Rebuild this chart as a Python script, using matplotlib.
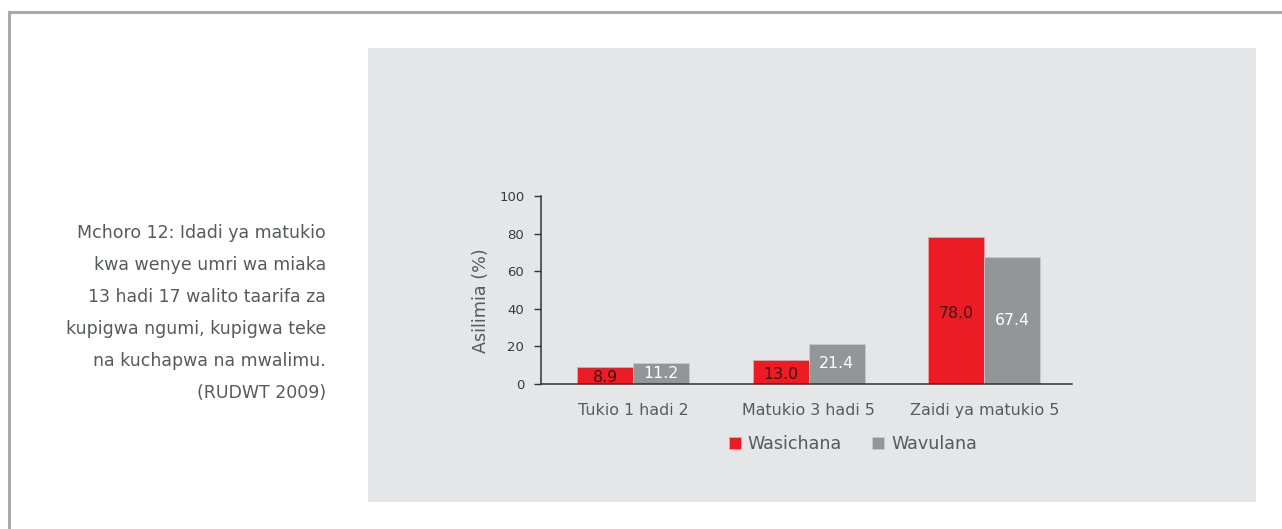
import numpy as np
import matplotlib.pyplot as plt
from matplotlib.patches import Rectangle
from matplotlib.lines import Line2D

plt.rcParams['font.family'] = ['DejaVu Sans']

categories = ['Tukio 1 hadi 2', 'Matukio 3 hadi 5', 'Zaidi ya matukio 5']
wasichana = [8.9, 13.0, 78.0]
wavulana = [11.2, 21.4, 67.4]
series_names = ['Wasichana', 'Wavulana']
yticks = [0, 20, 40, 60, 80, 100]
caption = ('Mchoro 12: Idadi ya matukio\nkwa wenye umri wa miaka\n13 hadi 17 walito taarifa za\n'
           'kupigwa ngumi, kupigwa teke\nna kuchapwa na mwalimu.\n(RUDWT 2009)')

red = '#ed1c24'
grey = '#939598'
text_col = '#58595b'

fig = plt.figure(figsize=(12.82, 5.29), dpi=100)
W, H = 1282, 529

# outer frame (top + left)
fig.add_artist(Line2D([9 / W, 9 / W], [0, 1 - 12 / H], transform=fig.transFigure, color='#a7a9ac', lw=2.2))
fig.add_artist(Line2D([9 / W, 1], [1 - 12 / H, 1 - 12 / H], transform=fig.transFigure, color='#a7a9ac', lw=2.2))

# grey panel
fig.add_artist(Rectangle((368 / W, 1 - 502 / H), (1256 - 368) / W, (502 - 48) / H,
                         transform=fig.transFigure, facecolor='#e5e6e7', edgecolor='none', zorder=0))

ax = fig.add_axes([541 / W, 1 - 384 / H, (1072 - 541) / W, (384 - 196) / H])
ax.patch.set_visible(False)

x = np.arange(len(categories))
bw = 0.32
b1 = ax.bar(x - bw / 2, wasichana, bw, color=red, edgecolor='#f4a0a0', linewidth=0.6, label=series_names[0])
b2 = ax.bar(x + bw / 2, wavulana, bw, color=grey, edgecolor='#c8c9cb', linewidth=0.6, label=series_names[1])

for rect, v in zip(b1, wasichana):
    ax.text(rect.get_x() + rect.get_width() / 2, max(v / 2 - 1.5, 3.6), f'{v:.1f}',
            ha='center', va='center', color='#3b1416', fontsize=11.3)
for rect, v in zip(b2, wavulana):
    ax.text(rect.get_x() + rect.get_width() / 2, max(v / 2, 4.8), f'{v:.1f}',
            ha='center', va='center', color='white', fontsize=11.3)

ax.set_xlim(-0.525, 2.5)
ax.set_ylim(0, 100)
ax.set_yticks(yticks)
ax.set_xticks(x)
ax.set_xticklabels(categories, fontsize=11.4, color=text_col)
ax.tick_params(axis='x', length=0, pad=14)
ax.tick_params(axis='y', length=5, width=1, color='#333333', labelsize=9.5, labelcolor='#3a3a3c', pad=7)
for s in ['top', 'right']:
    ax.spines[s].set_visible(False)
for s in ['left', 'bottom']:
    ax.spines[s].set_color('#333333')
    ax.spines[s].set_linewidth(1.1)
ax.set_ylabel('Asilimia (%)', fontsize=12.7, color=text_col)
ax.yaxis.set_label_coords(-0.096, 0.445)

ax.legend(loc='upper center', bbox_to_anchor=(0.587, -0.19), ncol=2, frameon=False,
          handlelength=0.7, handleheight=0.7, handletextpad=0.4, columnspacing=1.7,
          fontsize=12.6, labelcolor=text_col)

fig.text(326 / W, 1 - 312.5 / H, caption, ha='right', va='center', fontsize=12.5,
         color=text_col, linespacing=2.0)

fig.savefig('out.png', dpi=100)
